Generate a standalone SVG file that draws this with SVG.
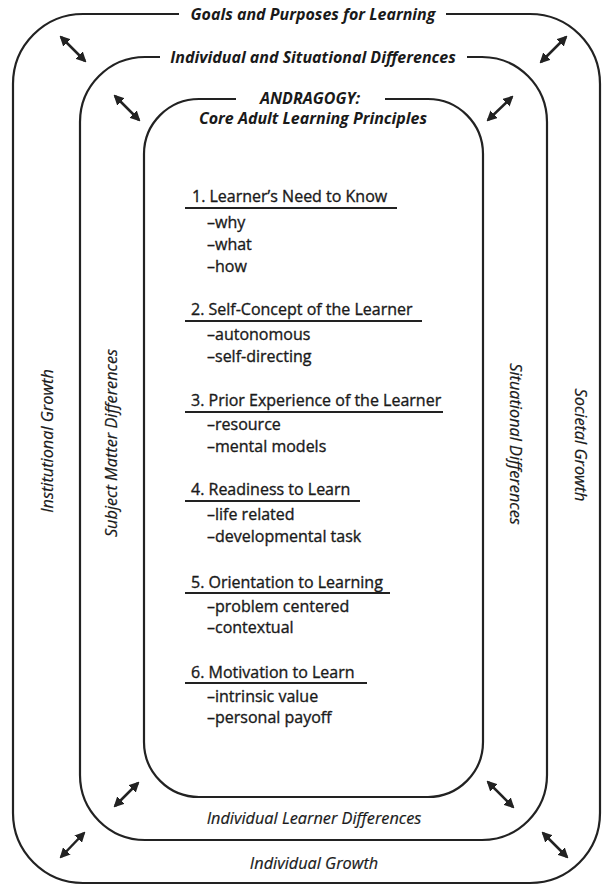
<svg xmlns="http://www.w3.org/2000/svg" width="603" height="886" viewBox="0 0 603 886">
<style>
.frame{fill:none;stroke:#222;stroke-width:2.2}
.rule{stroke:#222;stroke-width:2}
.arrow{stroke:#222;stroke-width:2.5;marker-start:url(#ah);marker-end:url(#ah)}
text{font-family:"Open Sans","Noto Sans","Liberation Sans",sans-serif;fill:#1a1a1a}
.title{font-size:16px;font-weight:bold;font-style:italic;text-anchor:middle}
.side{font-size:16.3px;font-style:italic;text-anchor:middle;stroke:#1a1a1a;stroke-width:0.2}
.head{font-size:16px;stroke:#1a1a1a;stroke-width:0.35}
.item{font-size:16px;stroke:#1a1a1a;stroke-width:0.35}
</style>
<defs>
<marker id="ah" viewBox="0 0 10 10" refX="8" refY="5" markerWidth="4.2" markerHeight="4.2" orient="auto-start-reverse" markerUnits="strokeWidth">
<path d="M0,0 L10,5 L0,10 z" fill="#222"/>
</marker>
</defs>
<rect width="603" height="886" fill="#fff"/>

<g id="outer-ring">
<path class="frame" d="M179,14 H83 A70,70 0 0 0 13,84 V813 A70,70 0 0 0 83,883 H530 A70,70 0 0 0 600,813 V84 A70,70 0 0 0 530,14 H446"/>
<text class="title" x="313" y="20">Goals and Purposes for Learning</text>
<text class="side" transform="translate(53,441) rotate(-90)">Institutional Growth</text>
<text class="side" transform="translate(575,445) rotate(90)">Societal Growth</text>
<text class="side" x="314" y="869">Individual Growth</text>
</g>

<g id="middle-ring">
<path class="frame" d="M160,57 H145 A65,65 0 0 0 80,122 V775 A65,65 0 0 0 145,840 H482 A65,65 0 0 0 547,775 V122 A65,65 0 0 0 482,57 H467"/>
<text class="title" x="313" y="63">Individual and Situational Differences</text>
<text class="side" transform="translate(117,443) rotate(-90)">Subject Matter Differences</text>
<text class="side" transform="translate(510,444) rotate(90)">Situational Differences</text>
<text class="side" x="314" y="824">Individual Learner Differences</text>
</g>

<g id="inner-ring">
<path class="frame" d="M236,99 H199 A55,55 0 0 0 144,154 V742 A55,55 0 0 0 199,797 H428 A55,55 0 0 0 483,742 V154 A55,55 0 0 0 428,99 H385"/>
<text class="title" x="310" y="104">ANDRAGOGY:</text>
<text class="title" x="313" y="124">Core Adult Learning Principles</text>
</g>

<g id="principle-1">
<text class="head" x="192" y="202">1. Learner’s Need to Know</text>
<line class="rule" x1="185" y1="208" x2="397" y2="208"/>
<text class="item" x="207" y="228">–why</text>
<text class="item" x="207" y="250">–what</text>
<text class="item" x="207" y="272">–how</text>
</g>
<g id="principle-2">
<text class="head" x="191" y="315">2. Self-Concept of the Learner</text>
<line class="rule" x1="185" y1="321" x2="422" y2="321"/>
<text class="item" x="207" y="340">–autonomous</text>
<text class="item" x="207" y="362">–self-directing</text>
</g>
<g id="principle-3">
<text class="head" x="191" y="406">3. Prior Experience of the Learner</text>
<line class="rule" x1="185" y1="412" x2="443" y2="412"/>
<text class="item" x="207" y="430">–resource</text>
<text class="item" x="207" y="452">–mental models</text>
</g>
<g id="principle-4">
<text class="head" x="191" y="495">4. Readiness to Learn</text>
<line class="rule" x1="185" y1="501" x2="360" y2="501"/>
<text class="item" x="207" y="520">–life related</text>
<text class="item" x="207" y="542">–developmental task</text>
</g>
<g id="principle-5">
<text class="head" x="191" y="588">5. Orientation to Learning</text>
<line class="rule" x1="185" y1="593" x2="390" y2="593"/>
<text class="item" x="207" y="612">–problem centered</text>
<text class="item" x="207" y="633">–contextual</text>
</g>
<g id="principle-6">
<text class="head" x="191" y="678">6. Motivation to Learn</text>
<line class="rule" x1="185" y1="683" x2="367" y2="683"/>
<text class="item" x="207" y="702">–intrinsic value</text>
<text class="item" x="207" y="723">–personal payoff</text>
</g>

<g id="connectors">
<line class="arrow" x1="61" y1="37" x2="85" y2="61"/>
<line class="arrow" x1="566" y1="37" x2="541" y2="62"/>
<line class="arrow" x1="115" y1="96" x2="139" y2="120"/>
<line class="arrow" x1="512" y1="97" x2="488" y2="120"/>
<line class="arrow" x1="138" y1="783" x2="115" y2="806"/>
<line class="arrow" x1="488" y1="782" x2="513" y2="807"/>
<line class="arrow" x1="84" y1="833" x2="61" y2="857"/>
<line class="arrow" x1="543" y1="833" x2="567" y2="857"/>
</g>
</svg>
